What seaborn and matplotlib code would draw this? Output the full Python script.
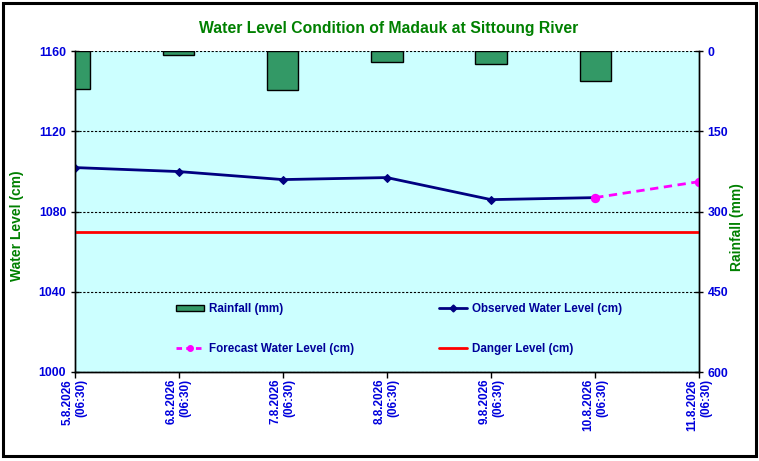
import matplotlib
matplotlib.use("Agg")
import matplotlib.pyplot as plt
import seaborn as sns
import pandas as pd
from matplotlib.lines import Line2D
from matplotlib.patches import Patch, Rectangle

# ---- data ----
dates = ["5.8.2026", "6.8.2026", "7.8.2026", "8.8.2026", "9.8.2026", "10.8.2026", "11.8.2026"]
times = ["(06:30)", "(06:30)", "(06:30)", "(06:30)", "(06:30)", "(06:30)", "(06:30)"]
rainfall_mm = [70, 7, 72, 20, 23, 55]
observed_cm = [1102, 1100, 1096, 1097, 1086, 1087]
forecast_cm = [1087, 1095]
danger_cm = [1070, 1070, 1070, 1070, 1070, 1070, 1070]
title = "Water Level Condition of Madauk at Sittoung River"

sns.set_style("white")
plt.rcParams["font.family"] = ["Liberation Sans", "DejaVu Sans"]
plt.rcParams["font.weight"] = "bold"

n = len(dates)
pos_all = list(range(n))
rain_df = pd.DataFrame({"pos": pos_all[:len(rainfall_mm)], "rain": rainfall_mm})
obs_df = pd.DataFrame({"pos": pos_all[:len(observed_cm)], "level": observed_cm})
fc_df = pd.DataFrame({"pos": pos_all[len(observed_cm) - 1:], "level": forecast_cm})
dg_df = pd.DataFrame({"pos": pos_all, "level": danger_cm})

BLUE = "#0000DD"
GREEN = "#008000"

fig = plt.figure(figsize=(7.59, 4.61), dpi=100)
fig.patch.set_facecolor("white")
ax = fig.add_axes([74.5 / 759, 1 - 372 / 461, (699.3 - 74.5) / 759, (372 - 51.3) / 461])
ax.set_facecolor("#CCFFFF")
ax2 = ax.twinx()

# lines on primary axis
sns.lineplot(data=dg_df, x="pos", y="level", ax=ax, color="#FF0000", lw=2, zorder=3)
sns.lineplot(data=obs_df, x="pos", y="level", ax=ax, color="#000080", lw=2,
             marker="D", markersize=4.5, markeredgecolor="#000080", zorder=4)
sns.lineplot(data=fc_df, x="pos", y="level", ax=ax, color="#FF00FF", lw=2,
             linestyle=(0, (3, 2)), marker="o", markersize=6, markeredgecolor="#FF00FF", zorder=5)

# rainfall bars on secondary axis (inverted)
sns.barplot(data=rain_df, x="pos", y="rain", ax=ax2, native_scale=True, width=0.3,
            color="#339966", saturation=1, edgecolor="black", linewidth=1)

ax.set_xlim(0, n - 1)
ax.set_ylim(1000, 1160)
ax2.set_ylim(600, 0)
ax.set_yticks(range(1000, 1161, 40))
ax2.set_yticks(range(0, 601, 150))
ax.set_xticks(pos_all)
ax.set_xticklabels([f"{d}\n{t}" for d, t in zip(dates, times)], rotation=90,
                   ha="center", va="top", multialignment="right")
ax.set_xlabel("")
ax.set_ylabel("")
ax2.set_xlabel("")
ax2.set_ylabel("")

ax.yaxis.grid(True, linestyle=(0, (2, 1.5)), color="black", lw=0.8)
ax.set_axisbelow(True)
ax2.grid(False)

for a in (ax, ax2):
    for s in a.spines.values():
        s.set_color("black")
        s.set_linewidth(1)
    a.spines["top"].set_visible(False)

ax.tick_params(axis="y", direction="inout", length=6, width=1, pad=3,
               labelcolor=BLUE, labelsize=8.8, left=True, color="black")
ax2.tick_params(axis="y", direction="inout", length=6, width=1, pad=3,
                labelcolor=BLUE, labelsize=8.8, right=True, color="black")
ax.tick_params(axis="x", direction="out", length=4, width=1, pad=1,
               labelcolor=BLUE, labelsize=8.5, bottom=True, color="black")

# text
fig.text(389 / 759, 1 - 28 / 461, title, ha="center", va="center",
         color=GREEN, fontsize=11.3, fontweight="bold")
fig.text(17 / 759, 1 - 226 / 461, "Water Level (cm)", rotation=90, ha="center", va="center",
         color=GREEN, fontsize=10, fontweight="bold")
fig.text(737 / 759, 1 - 227 / 461, "Rainfall (mm)", rotation=90, ha="center", va="center",
         color=GREEN, fontsize=10, fontweight="bold")

# legend
handles = [
    Patch(facecolor="#339966", edgecolor="black"),
    Line2D([], [], color="#FF00FF", lw=2, linestyle=(0, (2, 1.5)), marker="o", markersize=4),
    Line2D([], [], color="#000080", lw=2, marker="D", markersize=3.5),
    Line2D([], [], color="#FF0000", lw=2),
]
labels = ["Rainfall (mm)", "Forecast Water Level (cm)", "Observed Water Level (cm)", "Danger Level (cm)"]
fig.legend(handles, labels, ncol=2, loc="upper left",
           bbox_to_anchor=(176 / 759, 1 - 303 / 461), frameon=False,
           prop=dict(weight="bold", size=8.4), labelcolor="#000099",
           handlelength=2.4, handleheight=0.5, handletextpad=0.4,
           columnspacing=7.3, labelspacing=2.4, borderpad=0, borderaxespad=0)

# chart border
fig.add_artist(Rectangle((2.5 / 759, 1 - 456 / 461), (756 - 2.5) / 759, (456 - 3.5) / 461,
                         transform=fig.transFigure, fill=False, ec="black", lw=2.2))

fig.savefig("out.png", dpi=100, facecolor="white")
